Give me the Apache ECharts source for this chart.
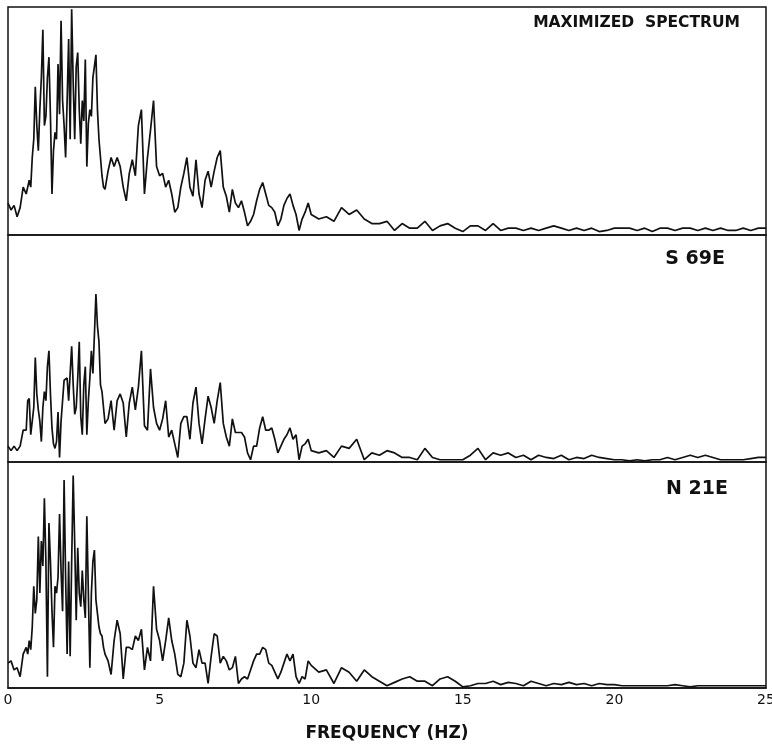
<!DOCTYPE html>
<html>
<head>
<meta charset="utf-8">
<title>Maximized spectrum</title>
<script src="https://cdn.jsdelivr.net/npm/echarts@6/dist/echarts.min.js"></script>
<style>
  html, body { margin: 0; padding: 0; background: #fff; }
  #chart { width: 772px; height: 744px; }
</style>
</head>
<body>
<div id="chart"></div>
<script>
// Frequency grid (Hz): finer steps over the busy 0.6 - 3.2 Hz band
const frequencies = [
  0, 0.1, 0.2, 0.3, 0.4, 0.5,
  0.6, 0.65, 0.7, 0.75, 0.8, 0.85, 0.9, 0.95, 1.0, 1.05,
  1.1, 1.15, 1.2, 1.25, 1.3, 1.35, 1.4, 1.45, 1.5, 1.55,
  1.6, 1.65, 1.7, 1.75, 1.8, 1.85, 1.9, 1.95, 2.0, 2.05,
  2.1, 2.15, 2.2, 2.25, 2.3, 2.35, 2.4, 2.45, 2.5, 2.55,
  2.6, 2.65, 2.7, 2.75, 2.8, 2.85, 2.9, 2.95, 3.0, 3.05,
  3.1, 3.15, 3.2,
  3.3, 3.4, 3.5, 3.6, 3.7, 3.8, 3.9,
  4.0, 4.1, 4.2, 4.3, 4.4, 4.5, 4.6, 4.7, 4.8, 4.9,
  5.0, 5.1, 5.2, 5.3, 5.4, 5.5, 5.6, 5.7, 5.8, 5.9,
  6.0, 6.1, 6.2, 6.3, 6.4, 6.5, 6.6, 6.7, 6.8, 6.9,
  7.0, 7.1, 7.2, 7.3, 7.4, 7.5, 7.6, 7.7, 7.8, 7.9,
  8.0, 8.1, 8.2, 8.3, 8.4, 8.5, 8.6, 8.7, 8.8, 8.9,
  9.0, 9.1, 9.2, 9.3, 9.4, 9.5, 9.6, 9.7, 9.8, 9.9,
  10.0,
  10.25, 10.5, 10.75, 11.0, 11.25, 11.5, 11.75, 12.0, 12.25, 12.5, 12.75, 13.0,
  13.25, 13.5, 13.75, 14.0, 14.25, 14.5, 14.75, 15.0, 15.25, 15.5, 15.75, 16.0,
  16.25, 16.5, 16.75, 17.0, 17.25, 17.5, 17.75, 18.0, 18.25, 18.5, 18.75, 19.0,
  19.25, 19.5, 19.75, 20.0, 20.25, 20.5, 20.75, 21.0, 21.25, 21.5, 21.75, 22.0,
  22.25, 22.5, 22.75, 23.0, 23.25, 23.5, 23.75, 24.0, 24.25, 24.5, 24.75, 25.0
];

// Relative amplitude (0 - 100 = panel height)
const maximizedValues = [
  14, 11, 13, 8, 12, 21,
  18, 21, 24, 21, 34, 42, 65, 48, 37, 55,
  69, 90, 48, 52, 69, 78, 52, 18, 37, 45,
  42, 75, 53, 94, 59, 48, 34, 59, 86, 42,
  99, 67, 42, 74, 80, 55, 40, 59, 50, 77,
  30, 49, 55, 52, 69, 74, 79, 55, 42, 34,
  26, 21, 20,
  28, 34, 30, 34, 30, 21, 15,
  27, 33, 26, 48, 55, 18, 34, 46, 59, 30,
  26, 27, 21, 24, 18, 10, 12, 21, 27, 34,
  21, 17, 33, 18, 12, 24, 28, 21, 28, 34,
  37, 21, 17, 10, 20, 14, 12, 15, 10, 4,
  6, 9, 15, 20, 23, 18, 13, 12, 10, 4,
  7, 13, 16, 18, 13, 9, 2, 7, 10, 14,
  9,
  7, 8, 6, 12, 9, 11, 7, 5, 5, 6, 2, 5,
  3, 3, 6, 2, 4, 5, 3, 1.5, 4, 4, 2, 5,
  2, 3, 3, 2, 3, 2, 3, 4, 3, 2, 3, 2,
  3, 1.5, 2, 3, 3, 3, 2, 3, 1.5, 3, 3, 2,
  3, 3, 2, 3, 2, 3, 2, 2, 3, 2, 3, 3
];

const s69eValues = [
  7, 5, 7, 5, 7, 14,
  14, 27, 28, 12, 18, 24, 46, 30, 23, 18,
  9, 24, 31, 27, 42, 49, 30, 15, 8, 6,
  9, 22, 2, 18, 27, 36, 36, 37, 27, 39,
  51, 34, 21, 24, 37, 53, 20, 12, 34, 42,
  12, 27, 37, 49, 39, 56, 74, 60, 53, 34,
  31, 24, 17,
  19, 27, 14, 27, 30, 26, 11,
  26, 33, 23, 33, 49, 16, 14, 41, 24, 17,
  14, 19, 27, 11, 14, 8, 2, 17, 20, 20,
  10, 26, 33, 17, 8, 19, 29, 24, 17, 27,
  35, 17, 11, 7, 19, 13, 13, 13, 11, 4,
  1, 7, 7, 15, 20, 14, 14, 15, 10, 4,
  7, 10, 12, 15, 10, 12, 1, 7, 8, 10,
  5,
  4, 5, 2, 7, 6, 10, 1, 4, 3, 5, 4, 2,
  2, 1, 6, 2, 1, 1, 1, 1, 3, 6, 1, 4,
  3, 4, 2, 3, 1, 3, 2, 1.5, 3, 1, 2, 1.5,
  3, 2, 1.5, 1, 1, 0.5, 1, 0.5, 1, 1, 2, 1,
  2, 3, 2, 3, 2, 1, 1, 1, 1, 1.5, 2, 2
];

const n21eValues = [
  11, 12, 8, 9, 5, 15,
  18, 15, 21, 17, 27, 45, 33, 39, 67, 42,
  65, 54, 84, 56, 5, 73, 56, 34, 18, 45,
  42, 49, 77, 52, 34, 92, 49, 15, 56, 14,
  56, 94, 64, 30, 62, 42, 36, 52, 39, 31,
  76, 42, 9, 42, 56, 61, 39, 33, 27, 24,
  23, 18, 15,
  12, 6, 21, 30, 24, 4, 18,
  18, 17, 23, 21, 26, 8, 18, 12, 45, 26,
  21, 12, 21, 31, 21, 15, 6, 5, 11, 30,
  23, 11, 9, 17, 11, 11, 2, 14, 24, 23,
  11, 14, 12, 8, 9, 14, 2, 4, 5, 4,
  8, 12, 15, 15, 18, 17, 11, 10, 7, 4,
  7, 11, 15, 12, 15, 5, 2, 5, 4, 12,
  10,
  7, 8, 2, 9, 7, 3, 8, 5, 3, 1, 2.5, 4,
  5, 3, 3, 1, 4, 5, 3, 0.5, 1, 2, 2, 3,
  1.5, 2.5, 2, 1, 3, 2, 1, 2, 1.5, 2.5, 1.5, 2,
  1, 2, 1.5, 1.5, 1, 1, 1, 1, 1, 1, 1, 1.5,
  1, 0.5, 1, 1, 1, 1, 1, 1, 1, 1, 1, 1
];

const panelLabels = ["MAXIMIZED  SPECTRUM", "S 69E", "N 21E"];
const xTickLabels = [0, 5, 10, 15, 20, 25];

const panelValues = [maximizedValues, s69eValues, n21eValues];

// Panel frames (px)
const panelBoxes = [
  { top: 7, height: 228 },
  { top: 235, height: 227 },
  { top: 462, height: 226 },
];
const labelPos = [
  { right: 32, top: 15, size: 15.5 },
  { right: 47, top: 250, size: 19 },
  { right: 44, top: 480, size: 19 },
];

function toPairs(values) {
  return values.map((v, i) => [frequencies[i], v]);
}

const chart = echarts.init(document.getElementById("chart"));

const option = {
  animation: false,
  backgroundColor: "#ffffff",
  textStyle: { fontFamily: "DejaVu Sans" },
  title: panelLabels.map((text, i) => ({
    text: text,
    right: labelPos[i].right,
    top: labelPos[i].top,
    padding: 0,
    textStyle: {
      fontFamily: "DejaVu Sans",
      fontSize: labelPos[i].size,
      fontWeight: "bold",
      color: "#111",
    },
  })),
  grid: panelBoxes.map(box => ({
    left: 8,
    width: 758,
    top: box.top,
    height: box.height,
    outerBoundsMode: "none",
    containLabel: false,
    show: true,
    borderColor: "#111",
    borderWidth: 1.5,
    backgroundColor: "transparent",
  })),
  xAxis: panelBoxes.map((box, i) => {
    const isBottom = i === panelBoxes.length - 1;
    return {
      type: "value",
      gridIndex: i,
      min: xTickLabels[0],
      max: xTickLabels[xTickLabels.length - 1],
      interval: 5,
      splitLine: { show: false },
      axisTick: { show: false },
      axisLine: { show: isBottom, lineStyle: { color: "#111", width: 1.5 } },
      axisLabel: {
        show: isBottom,
        margin: 5,
        fontSize: 14,
        color: "#111",
        fontFamily: "DejaVu Sans",
      },
      name: isBottom ? "FREQUENCY (HZ)" : "",
      nameLocation: "middle",
      nameGap: 37,
      nameTextStyle: {
        fontFamily: "DejaVu Sans",
        fontSize: 17,
        fontWeight: "bold",
        color: "#111",
      },
    };
  }),
  yAxis: panelBoxes.map((box, i) => ({
    type: "value",
    gridIndex: i,
    min: 0,
    max: 100,
    show: false,
    splitLine: { show: false },
  })),
  series: panelValues.map((values, i) => ({
    type: "line",
    xAxisIndex: i,
    yAxisIndex: i,
    data: toPairs(values),
    showSymbol: false,
    symbol: "none",
    lineStyle: { color: "#111", width: 1.7 },
  })),
};

chart.setOption(option);
</script>
</body>
</html>
